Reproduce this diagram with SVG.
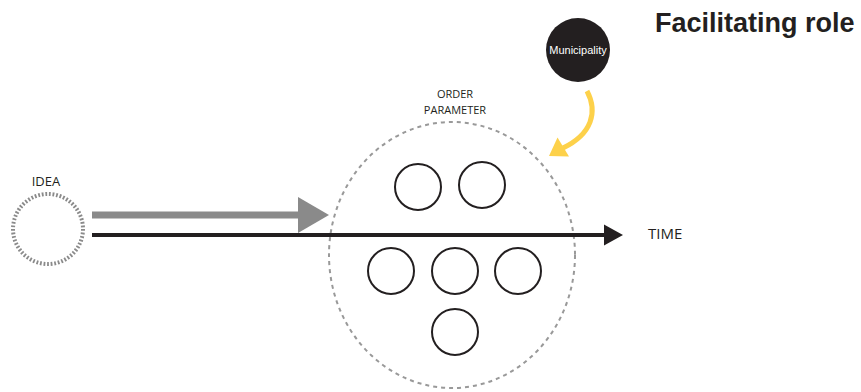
<svg xmlns="http://www.w3.org/2000/svg" width="861" height="392" viewBox="0 0 861 392">
<style>
.lbl{font-family:"Open Sans","Liberation Sans",sans-serif;fill:#231f20}
.small{fill:none;stroke:#231f20;stroke-width:2}
</style>
<rect width="861" height="392" fill="#fff"/>
<g id="title"><text x="655" y="32" font-family="'Liberation Sans',Arial,sans-serif" font-weight="bold" font-size="27" fill="#231f20">Facilitating role</text></g>
<g id="idea">
<circle cx="48" cy="229" r="35" fill="none" stroke="#8a8a8a" stroke-width="4" stroke-dasharray="1.8 1.8"/>
<text class="lbl" x="46" y="186" font-size="13" text-anchor="middle">IDEA</text>
</g>
<g id="order">
<ellipse cx="452" cy="255" rx="123" ry="133" fill="none" stroke="#999" stroke-width="2" stroke-dasharray="4 4"/>
<text class="lbl" x="455" y="98" font-size="11" text-anchor="middle">ORDER</text>
<text class="lbl" x="455" y="114" font-size="11" text-anchor="middle">PARAMETER</text>
</g>
<g id="c1"><circle class="small" cx="418" cy="187" r="23"/></g>
<g id="c2"><circle class="small" cx="482" cy="185" r="23"/></g>
<g id="c3"><circle class="small" cx="391" cy="271" r="23"/></g>
<g id="c4"><circle class="small" cx="455" cy="271" r="23"/></g>
<g id="c5"><circle class="small" cx="518" cy="271" r="23"/></g>
<g id="c6"><circle class="small" cx="455" cy="332" r="23"/></g>
<g id="municipality">
<circle cx="578" cy="50" r="32" fill="#231f20"/>
<text x="578" y="54" font-family="'Liberation Sans',Arial,sans-serif" font-size="11" fill="#fff" text-anchor="middle">Municipality</text>
</g>
<g id="time"><text class="lbl" x="648" y="239" font-size="15">TIME</text></g>
<g id="connectors">
<line x1="92" y1="215" x2="300" y2="215" stroke="#8a8a8a" stroke-width="7"/>
<polygon points="298,197 329,215 298,233" fill="#8a8a8a"/>
<line x1="92" y1="235" x2="606" y2="235" stroke="#231f20" stroke-width="4"/>
<polygon points="604,224.5 623,235 604,245.5" fill="#231f20"/>
<path d="M587 91 C598 112 592 134 563 148" fill="none" stroke="#fdd14a" stroke-width="5"/>
<polygon points="549,156 557.5,137.5 569,156.5" fill="#fdd14a"/>
</g>
</svg>
